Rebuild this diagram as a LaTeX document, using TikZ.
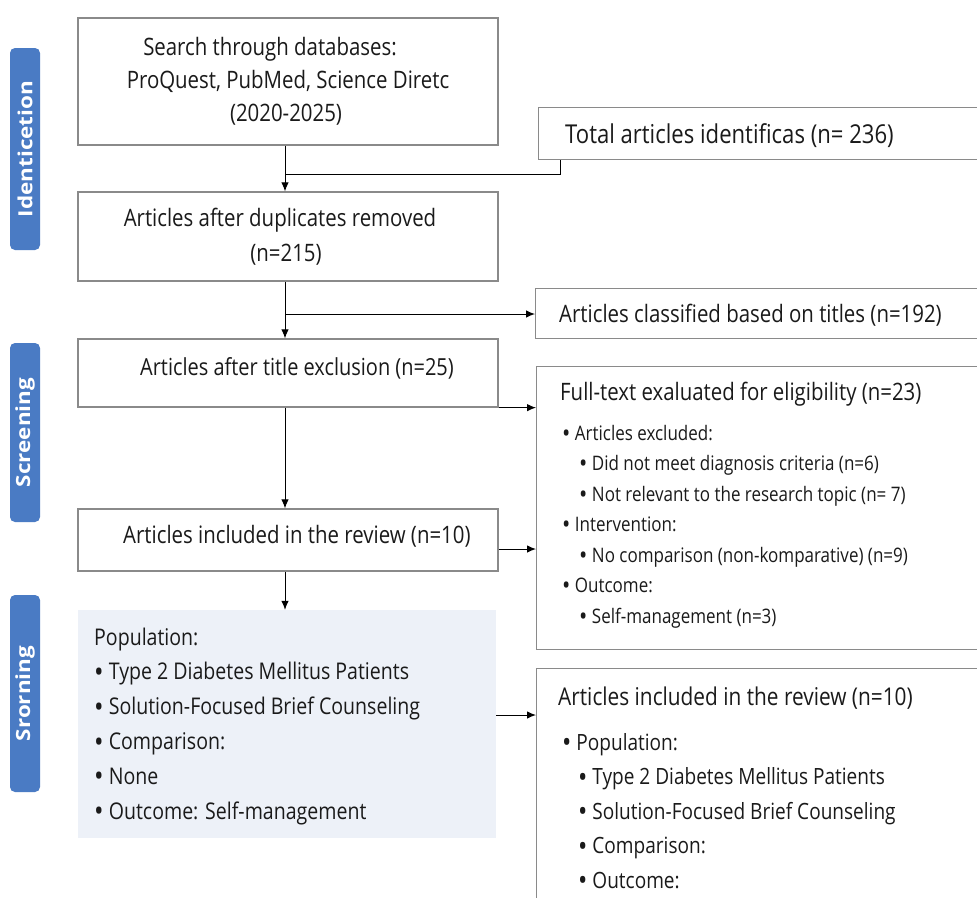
\documentclass[tikz,border=0pt]{standalone}
\usepackage{fontspec}
\setmainfont{Open Sans}[FakeStretch=0.85]
\newfontfamily\sidefont{Open Sans}[FakeStretch=1.15]
\usetikzlibrary{arrows.meta}
\definecolor{sideblue}{HTML}{4A7BC4}
\definecolor{boxline}{HTML}{8A8A8A}
\definecolor{popfill}{HTML}{EDF1F8}
\definecolor{txt}{HTML}{1A1A1A}
\newcommand{\bul}{\raisebox{-0.11em}{\scalebox{1.3}{\textbullet}}}
\begin{document}
\begin{tikzpicture}[x=1pt,y=-1pt,
  box/.style={draw=boxline, line width=1.3pt, fill=white, inner sep=0, text=txt, align=center},
  side/.style={fill=sideblue, rounded corners=5pt, text=white, inner sep=0,
    font=\sidefont\fontsize{19.5}{22}\selectfont\bfseries, rotate=90},
  lst/.style={text=txt, align=left, anchor=north west, inner sep=0},
  conn/.style={draw=black, line width=1pt},
  arr/.style={conn, -{Latex[length=9pt,width=7.5pt]}}]
\useasboundingbox (0,0) rectangle (977,897);
\clip (0,0) rectangle (977,897);
\fill[white] (0,0) rectangle (977,897);
% side labels
\node[side, minimum width=202, minimum height=30] (sid) at (25,149) {Identicetion};
\node[side, minimum width=179, minimum height=30] (sscr) at (25,432.5) {Screening};
\node[side, minimum width=197, minimum height=30] (ssro) at (25,693.5) {Srorning};
% left column
\node[box, font=\fontsize{24}{33}\selectfont, minimum width=420, minimum height=127] (search) at (288,81.5)
  {Search through databases:\hspace*{36pt}\\ ProQuest, PubMed, Science Diretc\hspace*{14pt}\\ (2020-2025)\hspace*{4pt}};
\node[box, font=\fontsize{24}{35}\selectfont, minimum width=420, minimum height=89] (dup) at (288,236.5)
  {Articles after duplicates removed\hspace*{16pt}\\ (n=215)\hspace*{4pt}};
\node[box, minimum width=420, minimum height=68] (title) at (288,373) {};
\node[lst, font=\fontsize{23.5}{30}\selectfont] (titletxt) at (140,357) {Articles after title exclusion (n=25)};
\node[box, minimum width=420, minimum height=62] (incl) at (288,540) {};
\node[lst, font=\fontsize{24}{30}\selectfont] (incltxt) at (123,524.8) {Articles included in the review (n=10)};
\node[fill=popfill, inner sep=0, minimum width=418, minimum height=228] (pop) at (287,724) {};
\node[lst, font=\fontsize{23}{34.8}\selectfont] (poptxt) at (94,627.5)
  {Population:\\
   \bul\ Type 2 Diabetes Mellitus Patients\\
   \bul\ Solution-Focused Brief Counseling\\
   \bul\ Comparison:\\
   \bul\ None\\
   \bul\ Outcome: Self-management};
% right column
\node[box, minimum width=460, minimum height=52, anchor=north west] (total) at (538,107) {};
\node[lst, font=\fontsize{26}{30}\selectfont] (totaltxt) at (565,123.2) {Total articles identificas (n= 236)};
\node[box, minimum width=460, minimum height=50, anchor=north west] (class) at (535,288) {};
\node[lst, font=\fontsize{24}{30}\selectfont] (classtxt) at (559,303.8) {Articles classified based on titles (n=192)};
\node[box, minimum width=460, minimum height=283, anchor=north west] (full) at (536,366) {};
\node[lst, font=\fontsize{24}{30}\selectfont] (fulltitle) at (560,381.8) {Full-text exaluated for eligibility (n=23)};
\node[lst, font=\fontsize{20}{30.5}\selectfont] (fulllist) at (562,424.8)
  {\bul\ Articles excluded:\\
   \hspace*{17pt}\bul\ Did not meet diagnosis criteria (n=6)\\
   \hspace*{17pt}\bul\ Not relevant to the research topic (n= 7)\\
   \bul\ Intervention:\\
   \hspace*{17pt}\bul\ No comparison (non-komparative) (n=9)\\
   \bul\ Outcome:\\
   \hspace*{17pt}\bul\ Self-management (n=3)};
\node[box, minimum width=460, minimum height=260, anchor=north west] (final) at (536,668) {};
\node[lst, font=\fontsize{24.5}{30}\selectfont] (finaltitle) at (558,686.4) {Articles included in the review (n=10)};
\node[lst, font=\fontsize{22.4}{34.5}\selectfont] (finallist) at (562,733)
  {\bul\ Population:\\
   \hspace*{16pt}\bul\ Type 2 Diabetes Mellitus Patients\\
   \hspace*{16pt}\bul\ Solution-Focused Brief Counseling\\
   \hspace*{16pt}\bul\ Comparison:\\
   \hspace*{16pt}\bul\ Outcome:};
% connectors
\coordinate (j1) at (285,174);
\coordinate (j2) at (285,314);
\draw[arr] (search.south -| j1) -- (dup.north -| j1);
\draw[conn] (total.south -| 560,0) |- (j1);
\draw[arr] (dup.south -| j2) -- (title.north -| j2);
\draw[arr] (j2) -- (class.west |- j2);
\draw[arr] (title.south -| j2) -- (incl.north -| j2);
\draw[arr] (title.south east) -- (full.west |- title.south);
\draw[arr] (incl.east |- 0,549) -- (full.west |- 0,549);
\draw[arr] (incl.south -| j2) -- (pop.north -| j2);
\draw[arr] (pop.east |- 0,715) -- (final.west |- 0,715);
\end{tikzpicture}
\end{document}
